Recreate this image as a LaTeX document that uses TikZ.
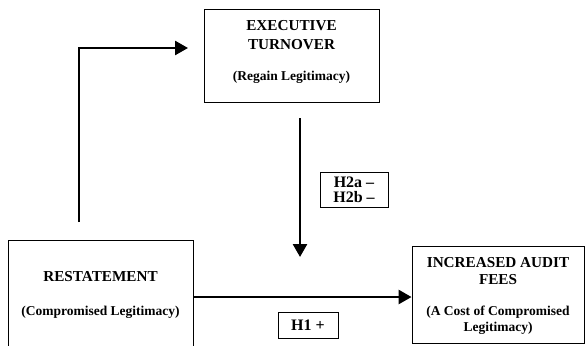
\documentclass[tikz,border=0pt]{standalone}
\usepackage{fontspec}
\setmainfont{Liberation Serif}
\usetikzlibrary{arrows.meta}
\begin{document}
\begin{tikzpicture}[x=1pt,y=-1pt,
  box/.style={draw=black,line width=0.9pt,rectangle,inner sep=0pt},
  caps/.style={font=\fontsize{15.2}{17}\selectfont\bfseries,inner sep=0pt,anchor=center},
  sub/.style={font=\fontsize{13.5}{15}\selectfont\bfseries,inner sep=0pt,anchor=center},
  hyp/.style={draw=black,line width=0.9pt,font=\fontsize{16}{17}\selectfont\bfseries,align=center,inner sep=0pt},
  link/.style={line width=2.6pt,-{Triangle[length=13pt,width=14pt]}}]
\useasboundingbox (0,0) rectangle (585,345);
% boxes
\node[box,minimum width=175pt,minimum height=93pt] (exec) at (291.5,55.5) {};
\node[box,minimum width=185pt,minimum height=115pt] (rest) at (100.5,297.5) {};
\node[box,minimum width=172pt,minimum height=97pt] (fees) at (498,294.5) {};
% texts
\node[caps] (e1) at (291.5,26) {EXECUTIVE};
\node[caps] (e2) at (291.5,45) {TURNOVER};
\node[sub] (e3) at (291.5,77) {(Regain Legitimacy)};
\node[caps] (r1) at (100.5,277) {RESTATEMENT};
\node[sub] (r2) at (100.5,312) {(Compromised Legitimacy)};
\node[caps] (f1) at (498,263) {INCREASED AUDIT};
\node[caps] (f2) at (498,280) {FEES};
\node[sub] (f3) at (498,312) {(A Cost of Compromised};
\node[sub] (f4) at (498,328) {Legitimacy)};
% hypothesis labels
\node[hyp,minimum width=68pt,minimum height=35pt] (h2) at (354,189.5) {H2a –\\[-2pt]H2b –};
\node[hyp,minimum width=60pt,minimum height=26pt] (h1) at (308,325) {H1 +};
% connectors
\coordinate (upstart) at (79,222);
\coordinate (corner) at (79,48);
\coordinate (uptip) at (188,48);
\coordinate (vtop) at (300,118);
\coordinate (vtip) at (300,257);
\draw[link] (upstart) -- (corner) -- (uptip);
\draw[link] (vtop) -- (vtip);
\draw[link] (rest.east |- 0,297) -- (fees.west |- 0,297);
\end{tikzpicture}
\end{document}
